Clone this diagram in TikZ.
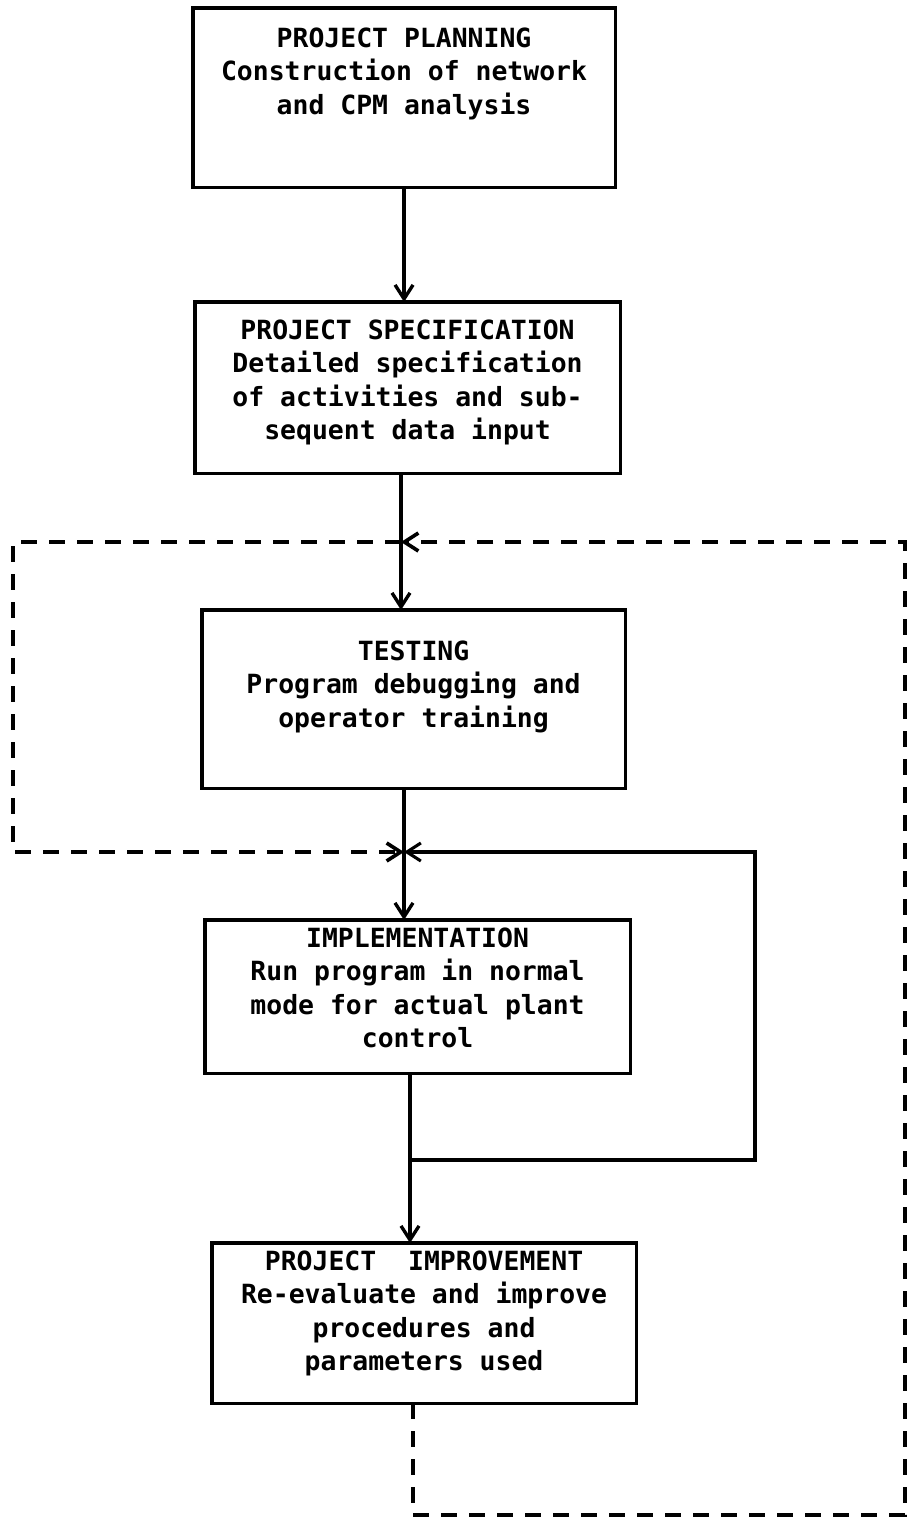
\documentclass[tikz,border=0pt]{standalone}
\usepackage{fontspec}
\newfontfamily\stagefont{DejaVu Sans Mono}
\usetikzlibrary{arrows.meta, positioning}

\begin{document}
\begin{tikzpicture}[x=0.025cm, y=-0.025cm,
    stage/.style={draw, line width=2.2pt, anchor=north west, inner sep=0pt, outer sep=0pt},
    stagetext/.style={anchor=north, align=center, inner sep=0pt, font=\stagefont\fontsize{18.8pt}{23.5pt}\selectfont\bfseries},
    flow/.style={line width=2.4pt, -{Straight Barb[length=0.35cm, width=0.45cm]}},
    rerunline/.style={line width=2.2pt, -{Straight Barb[length=0.35cm, width=0.45cm]}},
    skipline/.style={line width=2.6pt, dash pattern=on 0.4cm off 0.3cm, -{Straight Barb[length=0.35cm, width=0.45cm]}}]

    \useasboundingbox (0,0) rectangle (913,1520);

    % Stages
    \node[stage, minimum width=10.55cm, minimum height=4.475cm,
        label={[stagetext, yshift=-0.5cm]north:{PROJECT PLANNING\\Construction of network\\and CPM analysis}}] (plan) at (193,8) {};
    \node[stage, minimum width=10.625cm, minimum height=4.275cm,
        label={[stagetext, yshift=-0.45cm]north:{PROJECT SPECIFICATION\\Detailed specification\\of activities and sub-\\sequent data input}}] (spec) at (195,302) {};
    \node[stage, minimum width=10.575cm, minimum height=4.45cm,
        label={[stagetext, yshift=-0.775cm]north:{TESTING\\Program debugging and\\operator training}}] (test) at (202,610) {};
    \node[stage, minimum width=10.625cm, minimum height=3.825cm,
        label={[stagetext, yshift=-0.2cm]north:{IMPLEMENTATION\\Run program in normal\\mode for actual plant\\control}}] (imp) at (205,920) {};
    \node[stage, minimum width=10.6cm, minimum height=4cm,
        label={[stagetext, yshift=-0.2cm]north:{PROJECT\ \ IMPROVEMENT\\Re-evaluate and improve\\procedures and\\parameters used}}] (improve) at (212,1243) {};

    % Junctions and loop corners
    \coordinate (in3) at (401,542);
    \coordinate (in4) at (404,852);
    \coordinate (out4) at (410,1160);
    \coordinate (bypass) at (13,852);
    \coordinate (rerun) at (755,852);
    \coordinate (fb) at (413,1515);
    \coordinate (fbtop) at (905,542);

    % Main flow
    \draw[flow] (plan.south) -- (plan.south |- spec.north);
    \draw[flow] (spec.south -| in3) -- (in3 |- test.north);
    \draw[flow] (test.south -| in4) -- (in4 |- imp.north);
    \draw[flow] (imp.south -| out4) -- (out4 |- improve.north);

    % Repeat implementation
    \draw[rerunline] (out4) -| (rerun) -- (in4);

    % Bypass of testing and feedback
    \draw[skipline] (in3) -| (bypass) -- (in4);
    \draw[skipline] (improve.south -| fb) -- (fb) -| (fbtop) -- (in3);
\end{tikzpicture}
\end{document}
